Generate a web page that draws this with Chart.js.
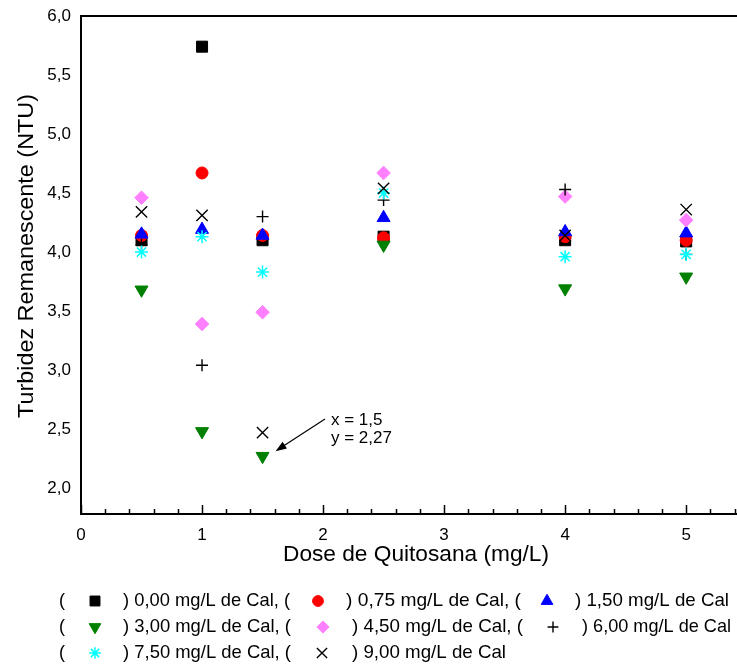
<!DOCTYPE html>
<html>
<head>
<meta charset="utf-8">
<script src="https://cdn.jsdelivr.net/npm/chart.js@4"></script>
<style>
  html, body { margin: 0; padding: 0; background: #fff; }
  #grafico { display: block; }
</style>
</head>
<body>
<canvas id="grafico" width="737" height="668"></canvas>
<script>
// doses de quitosana (mg/L)
const doses = [0.5, 1, 1.5, 2.5, 4, 5]

// turbidez remanescente (NTU) para cada dose de cal
const cal000 = [4.10, 5.74, 4.10, 4.13, 4.10, 4.09]
const cal075 = [4.14, 4.67, 4.14, 4.12, 4.13, 4.10]
const cal150 = [4.15, 4.19, 4.14, 4.29, 4.17, 4.16]
const cal300 = [3.68, 2.48, 2.27, 4.06, 3.69, 3.79]
const cal450 = [4.46, 3.39, 3.49, 4.67, 4.47, 4.27]
const cal600 = [4.06, 3.04, 4.30, 4.44, 4.53, 3.98]
const cal750 = [4.00, 4.13, 3.83, 4.50, 3.96, 3.98]
const cal900 = [4.34, 4.31, 2.47, 4.54, 4.14, 4.36]

const doseCal = ["0,00", "0,75", "1,50", "3,00", "4,50", "6,00", "7,50", "9,00"]

const xTicks = [0, 1, 2, 3, 4, 5]
const yTicks = [2.0, 2.5, 3.0, 3.5, 4.0, 4.5, 5.0, 5.5, 6.0]

// ponto destacado
const destaqueX = 1.5
const destaqueY = 2.27

const series = [cal000, cal075, cal150, cal300, cal450, cal600, cal750, cal900]

const estilos = [
	{cor: "#000000", forma: "rect", raio: 7.8, rot: 0, linha: 1},
	{cor: "#ff0000", forma: "circle", raio: 6, rot: 0, linha: 1},
	{cor: "#0000ff", forma: "triangle", raio: 7.5, rot: 0, linha: 1},
	{cor: "#008000", forma: "triangle", raio: 7.5, rot: 180, linha: 1},
	{cor: "#ff80ff", forma: "rectRot", raio: 6.8, rot: 0, linha: 1},
	{cor: "#000000", forma: "cross", raio: 6, rot: 0, linha: 1.4},
	{cor: "#00ffff", forma: "star", raio: 6.5, rot: 0, linha: 1.5},
	{cor: "#000000", forma: "crossRot", raio: 8, rot: 0, linha: 1.4}
]

const conjuntos = series.map((valores, i) => ({
	label: doseCal[i] + " mg/L de Cal",
	data: valores.map((v, j) => ({x: doses[j], y: v})),
	pointStyle: estilos[i].forma,
	pointRadius: estilos[i].raio,
	pointRotation: estilos[i].rot,
	pointBackgroundColor: estilos[i].cor,
	pointBorderColor: estilos[i].cor,
	pointBorderWidth: estilos[i].linha,
	showLine: false,
	// o ultimo conjunto fica por cima
	order: series.length - i
}))

const fonte = "'Liberation Sans', Arial, sans-serif"

// escreve texto comprimido ate a largura pedida
function textoLargura(ctx, texto, x, y, largura){
	const w = ctx.measureText(texto).width
	ctx.save()
	ctx.translate(x, y)
	ctx.scale(largura / w, 1)
	ctx.fillText(texto, 0, 0)
	ctx.restore()
}

const extras = {
	id: "extras",
	afterDraw(chart){
		const ctx = chart.ctx
		const area = chart.chartArea
		const sx = chart.scales.x
		const sy = chart.scales.y

		ctx.save()
		ctx.strokeStyle = "#000"
		ctx.lineWidth = 2

		// linha de cima
		ctx.beginPath()
		ctx.moveTo(area.left - 1, area.top)
		ctx.lineTo(area.right, area.top)
		ctx.stroke()

		// marcas do eixo y, para dentro
		ctx.lineWidth = 1.5
		for (let v = sy.min; v <= sy.max + 1e-9; v += 0.05){
			const r = Math.round(v * 100)
			if (r % 25 != 0) continue
			const py = Math.round(sy.getPixelForValue(r / 100)) + 0.5
			const tam = (r % 50 == 0) ? 9 : 5
			ctx.beginPath()
			ctx.moveTo(area.left, py)
			ctx.lineTo(area.left + tam, py)
			ctx.stroke()
		}

		// marcas do eixo x, para dentro
		for (let k = 0; k * 0.2 <= sx.max + 1e-9; k++){
			const px = Math.round(sx.getPixelForValue(k * 0.2)) + 0.5
			const tam = (k % 5 == 0) ? 9 : 5
			ctx.beginPath()
			ctx.moveTo(px, area.bottom)
			ctx.lineTo(px, area.bottom - tam)
			ctx.stroke()
		}

		// titulos dos eixos
		ctx.fillStyle = "#000"
		ctx.font = "22px " + fonte
		ctx.textBaseline = "middle"
		ctx.textAlign = "left"
		textoLargura(ctx, "Dose de Quitosana (mg/L)", 283, 555, 266)

		ctx.save()
		ctx.translate(27, 256)
		ctx.rotate(-Math.PI / 2)
		textoLargura(ctx, "Turbidez Remanescente (NTU)", -162, 0, 324)
		ctx.restore()

		// anotacao do ponto minimo
		const ax = sx.getPixelForValue(destaqueX)
		const ay = sy.getPixelForValue(destaqueY)
		ctx.font = "17px " + fonte
		ctx.fillText("x = " + String(destaqueX).replace(".", ","), 331, 420)
		ctx.fillText("y = " + String(destaqueY).replace(".", ","), 331, 438)

		const x0 = 325, y0 = 419
		const x1 = ax + 13, y1 = ay - 5
		const ang = Math.atan2(y1 - y0, x1 - x0)
		ctx.lineWidth = 1.2
		ctx.beginPath()
		ctx.moveTo(x0, y0)
		ctx.lineTo(x1 - Math.cos(ang) * 8, y1 - Math.sin(ang) * 8)
		ctx.stroke()
		ctx.beginPath()
		ctx.moveTo(x1, y1)
		ctx.lineTo(x1 - Math.cos(ang) * 11 - Math.sin(ang) * 4, y1 - Math.sin(ang) * 11 + Math.cos(ang) * 4)
		ctx.lineTo(x1 - Math.cos(ang) * 11 + Math.sin(ang) * 4, y1 - Math.sin(ang) * 11 - Math.cos(ang) * 4)
		ctx.closePath()
		ctx.fill()

		// legenda em tres linhas
		const linhas = [
			{y: 601, itens: [[0, 95, 123, 290], [1, 318, 346, 521], [2, 547, 575, 729]]},
			{y: 627, itens: [[3, 95, 123, 291], [4, 323, 352, 523], [5, 553, 582, 731]]},
			{y: 653, itens: [[6, 95, 123, 291], [7, 322, 352, 506]]}
		]
		ctx.font = "19px " + fonte
		linhas.forEach(linha => {
			ctx.fillStyle = "#000"
			textoLargura(ctx, "(", 59, linha.y, 6)
			linha.itens.forEach((item, k) => {
				const i = item[0]
				const e = estilos[i]
				const ultimo = k == linha.itens.length - 1
				const texto = ") " + doseCal[i] + " mg/L de Cal" + (ultimo ? "" : ", (")
				ctx.fillStyle = "#000"
				textoLargura(ctx, texto, item[2], linha.y, item[3] - item[2])

				ctx.fillStyle = e.cor
				ctx.strokeStyle = e.cor
				ctx.lineWidth = e.linha
				Chart.helpers.drawPoint(ctx, {
					pointStyle: e.forma,
					radius: e.raio * 0.9,
					rotation: e.rot,
					borderWidth: e.linha
				}, item[1], linha.y)
			})
		})
		ctx.restore()
	}
}

new Chart(document.getElementById("grafico"), {
	type: "scatter",
	data: {datasets: conjuntos},
	options: {
		responsive: false,
		animation: false,
		events: [],
		layout: {autoPadding: false, padding: {top: 16, right: 0, left: 0, bottom: 0}},
		plugins: {
			legend: {display: false},
			tooltip: {enabled: false}
		},
		scales: {
			x: {
				type: "linear",
				min: 0,
				max: 5.42,
				afterFit: s => { s.height = 154; s.paddingLeft = 0; s.paddingRight = 0 },
				afterBuildTicks: s => { s.ticks = xTicks.map(v => ({value: v})) },
				grid: {display: false, drawTicks: false},
				border: {display: true, color: "#000", width: 2},
				ticks: {
					color: "#000",
					padding: 11,
					maxRotation: 0,
					font: {family: fonte, size: 17},
					callback: v => String(v)
				}
			},
			y: {
				type: "linear",
				min: 1.78,
				max: 6.0,
				afterFit: s => { s.width = 81; s.paddingTop = 0; s.paddingBottom = 0 },
				afterBuildTicks: s => { s.ticks = yTicks.map(v => ({value: v})) },
				grid: {display: false, drawTicks: false},
				border: {display: true, color: "#000", width: 2},
				ticks: {
					color: "#000",
					padding: 10,
					font: {family: fonte, size: 17},
					callback: v => v.toFixed(1).replace(".", ",")
				}
			}
		}
	},
	plugins: [extras]
})
</script>
</body>
</html>
